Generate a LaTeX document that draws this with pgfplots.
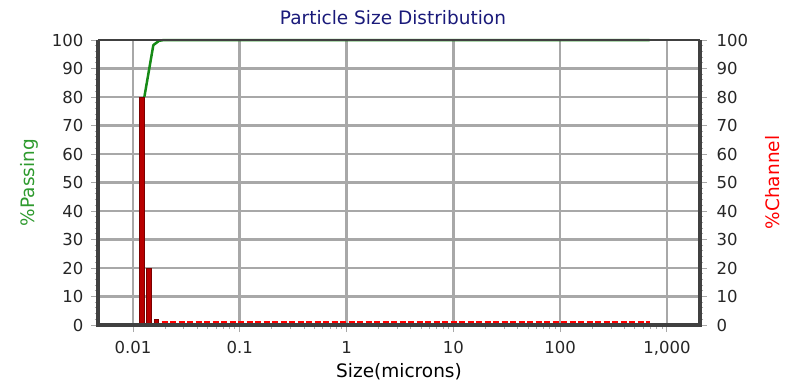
\documentclass[border=0pt]{standalone}
\usepackage{fontspec}
\setmainfont{DejaVu Sans}
\usepackage{pgfplots}
\pgfplotsset{compat=1.18}
\definecolor{gridgray}{HTML}{A8A8A8}
\definecolor{framegray}{HTML}{404040}
\definecolor{passgreen}{HTML}{168A16}
\definecolor{labgreen}{HTML}{2E9A2E}
\definecolor{barred}{HTML}{B80000}
\definecolor{baredge}{HTML}{7A0000}
\definecolor{titleblue}{HTML}{1A1A7A}
\begin{document}
\begin{tikzpicture}
\begin{axis}[
  scale only axis, width=602pt, height=285pt,
  xmode=log, xmin=0.0047, xmax=2040,
  ymin=0, ymax=100,
  font=\fontsize{18.5}{21}\selectfont,
  ticklabel style={color=black!85, font=\fontsize{16.5}{19}\selectfont},
  yticklabel style={xshift=-4pt},
  xticklabel style={yshift=-6pt},
  ytick={0,10,...,100},
  yticklabels={0,10,20,30,40,50,60,70,80,90,100},
  minor y tick num=4,
  tick style={gridgray, line width=1pt},
  major tick length=7pt, minor tick length=3.5pt,
  tick align=outside,
  axis y line*=left, axis x line*=bottom,
  axis line style={draw=none},
  xtick={0.01,0.1,1,10,100,1000},
  xticklabels={0.01,0.1,1,10,100,{1,000}},
  grid=major,
  major grid style={gridgray, line width=2.6pt},
  xlabel={Size(microns)},
  ylabel={\%Passing},
  ylabel style={color=labgreen, at={(axis description cs:-0.114,0.5)}, anchor=center},
  xlabel style={at={(axis description cs:0.5,-0.165)}, anchor=center},
  title={Particle Size Distribution},
  title style={color=titleblue, at={(axis description cs:0.49,1.056)}, anchor=center},
  clip=false,
]
\addplot[passgreen, line width=2.5pt, line join=round] coordinates {
 (0.01277,80) (0.0155,98.2) (0.0175,99.7) (0.0195,100) (690,100)
};
\end{axis}
\begin{axis}[
  scale only axis, width=602pt, height=285pt,
  xmode=log, xmin=0.0047, xmax=2040,
  ymin=0, ymax=100,
  font=\fontsize{18.5}{21}\selectfont,
  ticklabel style={color=black!85, font=\fontsize{16.5}{19}\selectfont},
  yticklabel style={xshift=6pt},
  ytick={0,10,...,100},
  yticklabels={0,10,20,30,40,50,60,70,80,90,100},
  minor y tick num=4,
  tick style={gridgray, line width=1pt},
  major tick length=7pt, minor tick length=3.5pt,
  tick align=outside,
  axis y line*=right, axis x line=none,
  axis line style={draw=none},
  ylabel={\%Channel},
  ylabel style={color=red, at={(axis description cs:1.12,0.5)}, anchor=center},
  clip=false,
]
\addplot[red, line width=3pt, dash pattern=on 6pt off 2.5pt] coordinates {
 (0.0185,0.8) (690,0.8)
};
\addplot[ybar, bar width=4.5pt, fill=barred, draw=baredge, line width=0.8pt] coordinates {
 (0.0121,80) (0.01405,20) (0.01664,2)
};
\draw[framegray, line width=1.8pt] (rel axis cs:0,1) -- (rel axis cs:1,1);
\draw[framegray, line width=3.5pt] (rel axis cs:0,1) -- (rel axis cs:0,0) -- (rel axis cs:1,0) -- (rel axis cs:1,1);
\end{axis}
\pgfresetboundingbox
\path (-98pt,-56pt) rectangle (694pt,325pt);
\end{tikzpicture}
\end{document}
